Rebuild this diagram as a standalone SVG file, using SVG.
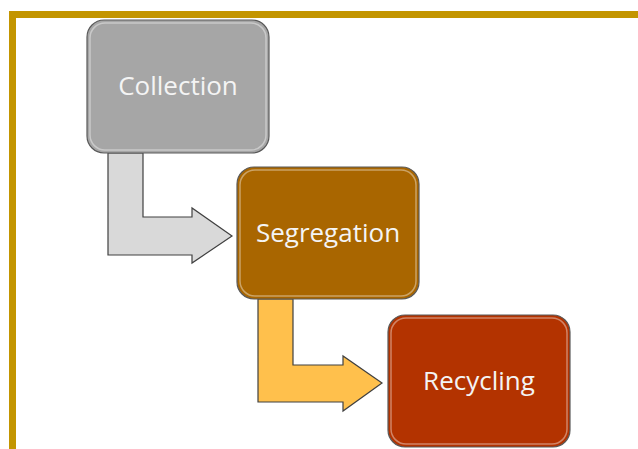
<svg xmlns="http://www.w3.org/2000/svg" width="638" height="449" viewBox="0 0 638 449">
<style>
.box{stroke:#5a5a5a;stroke-width:1.2}
.hl{fill:none;stroke:#ffffff;stroke-opacity:0.4;stroke-width:1.5}
.lbl{font-family:"Open Sans","Liberation Sans",Arial,sans-serif;font-size:26px;fill:#f4f4f4;text-anchor:middle}
.arr{stroke:#404040;stroke-width:1.2;stroke-linejoin:miter}
</style>
<rect width="638" height="449" fill="#ffffff"/>
<g id="frame">
<path d="M9,449 V11 H638 V18 H16 V449 Z" fill="#c39500"/>
</g>
<g id="connectors">
<path class="arr" fill="#d9d9d9" d="M108,153 H143 V217 H192 V208 L232,236 L192,263 V255 H108 Z"/>
<path class="arr" fill="#ffc04c" d="M258,299 H293 V365 H343 V356 L382,383 L343,411 V402 H258 Z"/>
</g>
<g id="collection">
<rect class="box" x="87" y="20" width="182" height="133" rx="17" fill="#a6a6a6"/>
<rect class="hl" x="90" y="23" width="176" height="127" rx="15"/>
<text class="lbl" x="178" y="95">Collection</text>
</g>
<g id="segregation">
<rect class="box" x="237" y="167" width="182" height="132" rx="17" fill="#a96600"/>
<rect class="hl" x="240" y="170" width="176" height="126" rx="15"/>
<text class="lbl" x="328" y="242">Segregation</text>
</g>
<g id="recycling">
<rect class="box" x="388" y="315" width="182" height="132" rx="17" fill="#b33300"/>
<rect class="hl" x="391" y="318" width="176" height="126" rx="15"/>
<text class="lbl" x="479" y="390">Recycling</text>
</g>
</svg>
